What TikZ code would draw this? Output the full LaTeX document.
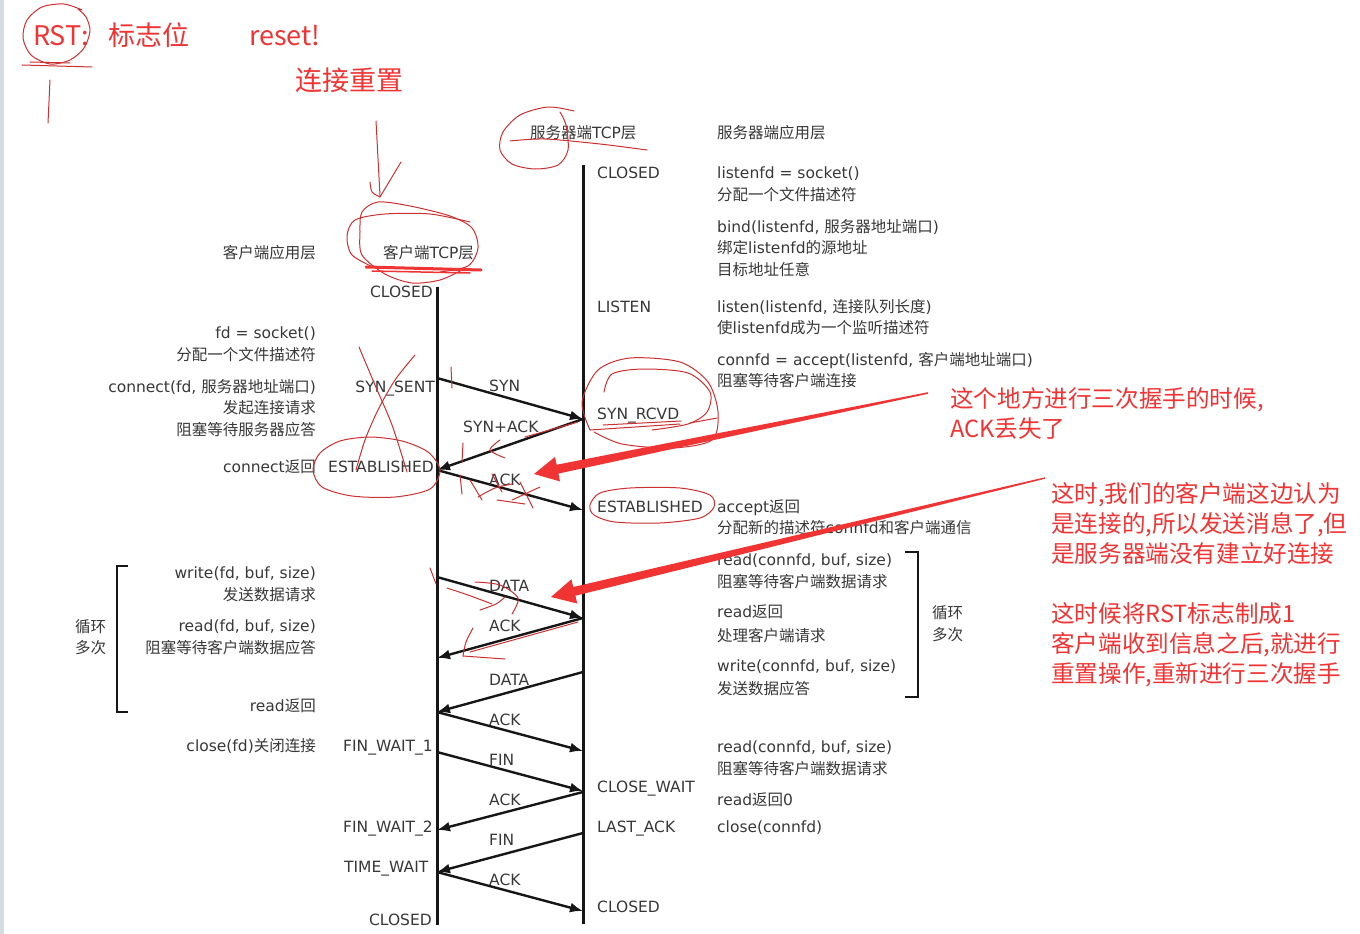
\documentclass[tikz,border=0pt]{standalone}
\usepackage{fontspec}
\setmainfont{DejaVu Sans}
\newfontfamily\zh{Noto Sans CJK SC}
\newcommand\cjkt[1]{{\zh #1}}
\usetikzlibrary{arrows.meta,calc}
\definecolor{txt}{RGB}{56,56,56}
\definecolor{ln}{RGB}{22,22,22}
\definecolor{pen}{RGB}{205,48,48}
\definecolor{rtx}{RGB}{240,52,52}
\definecolor{edgec}{RGB}{214,220,228}
\tikzset{
  gtxt/.style={inner sep=0pt, text=txt, font=\fontsize{15.5}{18}\selectfont, text height=11pt, text depth=0pt},
  gl/.style={gtxt, anchor=west},
  gr/.style={gtxt, anchor=east},
  msg/.style={line width=2.4pt, draw=ln, -{Latex[length=13pt,width=10pt]}},
  life/.style={line width=3pt, draw=ln},
  brk/.style={line width=2pt, draw=ln},
  pen/.style={draw=pen, line width=1pt, line cap=round, line join=round},
  rtxt/.style={inner sep=0pt, anchor=west, text=rtx, font=\zh\fontsize{23.6}{28}\selectfont, text height=18pt, text depth=0pt},
  rbig/.style={inner sep=0pt, anchor=west, text=rtx, font=\zh\fontsize{27}{30}\selectfont, text height=20pt, text depth=0pt},
  rarrow/.style={fill=rtx, draw=none},
}
\begin{document}
\begin{tikzpicture}[x=1pt,y=-1pt]
\useasboundingbox (0,0) rectangle (1360,934);
\fill[white] (0,0) rectangle (1360,934);
\fill[edgec] (0,0) rectangle (4,934);

% ---------- headers ----------
\node[gl] (shdr) at (530,133) {\cjkt{服务器端}TCP\cjkt{层}};
\node[gl] (sapp) at (717,133) {\cjkt{服务器端应用层}};
\node[gr] (capp) at (316,253) {\cjkt{客户端应用层}};
\node[gl] (chdr) at (383,253) {\cjkt{客户端}TCP\cjkt{层}};

% ---------- lifelines ----------
\coordinate (ctop) at (437,287);
\coordinate (cbot) at (437,925);
\coordinate (stop) at (583,165);
\coordinate (sbot) at (583,924);
\draw[life] (ctop) -- (cbot);
\draw[life] (stop) -- (sbot);

% ---------- server states ----------
\node[gl] (ss1) at (597,173) {CLOSED};
\node[gl] (ss2) at (597,307) {LISTEN};
\node[gl] (ss3) at (597,414) {SYN\_RCVD};
\node[gl] (ss4) at (597,507) {ESTABLISHED};
\node[gl] (ss5) at (597,787) {CLOSE\_WAIT};
\node[gl] (ss6) at (597,827) {LAST\_ACK};
\node[gl] (ss7) at (597,907) {CLOSED};

% ---------- server application ----------
\node[gl] (sA1) at (717,173) {listenfd = socket()};
\node[gl] (sA2) at (717,195) {\cjkt{分配一个文件描述符}};
\node[gl] (sB1) at (717,227) {bind(listenfd, \cjkt{服务器地址端口})};
\node[gl] (sB2) at (717,248) {\cjkt{绑定}listenfd\cjkt{的源地址}};
\node[gl] (sB3) at (717,270) {\cjkt{目标地址任意}};
\node[gl] (sC1) at (717,307) {listen(listenfd, \cjkt{连接队列长度})};
\node[gl] (sC2) at (717,328) {\cjkt{使}listenfd\cjkt{成为一个监听描述符}};
\node[gl] (sD1) at (717,360) {connfd = accept(listenfd, \cjkt{客户端地址端口})};
\node[gl] (sD2) at (717,381) {\cjkt{阻塞等待客户端连接}};
\node[gl] (sE1) at (717,507) {accept\cjkt{返回}};
\node[gl] (sE2) at (717,528) {\cjkt{分配新的描述符}connfd\cjkt{和客户端通信}};
\node[gl] (sF1) at (717,560) {read(connfd, buf, size)};
\node[gl] (sF2) at (717,582) {\cjkt{阻塞等待客户端数据请求}};
\node[gl] (sF3) at (717,612) {read\cjkt{返回}};
\node[gl] (sF4) at (717,636) {\cjkt{处理客户端请求}};
\node[gl] (sF5) at (717,666) {write(connfd, buf, size)};
\node[gl] (sF6) at (717,689) {\cjkt{发送数据应答}};
\node[gl] (sG1) at (717,747) {read(connfd, buf, size)};
\node[gl] (sG2) at (717,769) {\cjkt{阻塞等待客户端数据请求}};
\node[gl] (sG3) at (717,800) {read\cjkt{返回}0};
\node[gl] (sG4) at (717,827) {close(connfd)};
\draw[brk] (905,552) -- (918,552) -- (918,697) -- (905,697);
\node[gl] (sL1) at (932,613) {\cjkt{循环}};
\node[gl] (sL2) at (932,635) {\cjkt{多次}};

% ---------- client states ----------
\node[gr] (cs1) at (433,292) {CLOSED};
\node[gr] (cs2) at (435,387) {SYN\_SENT};
\node[gr] (cs3) at (434,467) {ESTABLISHED};
\node[gr] (cs4) at (433,746) {FIN\_WAIT\_1};
\node[gr] (cs5) at (433,827) {FIN\_WAIT\_2};
\node[gl] (cs6) at (344,867) {TIME\_WAIT};
\node[gr] (cs7) at (432,920) {CLOSED};

% ---------- client application ----------
\node[gr] (cA1) at (316,333) {fd = socket()};
\node[gr] (cA2) at (316,355) {\cjkt{分配一个文件描述符}};
\node[gr] (cB1) at (316,387) {connect(fd, \cjkt{服务器地址端口})};
\node[gr] (cB2) at (316,408) {\cjkt{发起连接请求}};
\node[gr] (cB3) at (316,430) {\cjkt{阻塞等待服务器应答}};
\node[gr] (cC1) at (316,467) {connect\cjkt{返回}};
\node[gr] (cD1) at (316,573) {write(fd, buf, size)};
\node[gr] (cD2) at (316,595) {\cjkt{发送数据请求}};
\node[gr] (cD3) at (316,626) {read(fd, buf, size)};
\node[gr] (cD4) at (316,648) {\cjkt{阻塞等待客户端数据应答}};
\node[gr] (cD5) at (316,706) {read\cjkt{返回}};
\node[gr] (cE1) at (316,746) {close(fd)\cjkt{关闭连接}};
\draw[brk] (128,566) -- (117,566) -- (117,712) -- (128,712);
\node[gl] (cL1) at (75,627) {\cjkt{循环}};
\node[gl] (cL2) at (75,648) {\cjkt{多次}};

% ---------- message endpoints ----------
\coordinate (c1) at (437,378);  \coordinate (s1) at (583,419);
\coordinate (c2) at (437,470);  \coordinate (s2) at (583,510);
\coordinate (c3) at (437,577);  \coordinate (s3) at (583,618);
\coordinate (c4) at (437,658);  \coordinate (s4) at (583,672);
\coordinate (c5) at (437,712);  \coordinate (s5) at (583,751);
\coordinate (c6) at (437,752);  \coordinate (s6) at (583,791);
\coordinate (c7) at (437,830);  \coordinate (s7) at (583,792);
\coordinate (c8) at (437,872);  \coordinate (s8) at (583,833);
\coordinate (s9) at (583,911);

\draw[msg] (c1) -- (s1);
\draw[msg] (s1) -- (c2);
\draw[msg] (c2) -- (s2);
\draw[msg] (c3) -- (s3);
\draw[msg] (s3) -- (c4);
\draw[msg] (s4) -- (c5);
\draw[msg] (c5) -- (s5);
\draw[msg] (c6) -- (s6);
\draw[msg] (s7) -- (c7);
\draw[msg] (s8) -- (c8);
\draw[msg] (c8) -- (s9);

\node[gl] (m1) at (489,386) {SYN};
\node[gl] (m2) at (463,427) {SYN+ACK};
\node[gl] (m3) at (489,480) {ACK};
\node[gl] (m4) at (489,586) {DATA};
\node[gl] (m5) at (489,626) {ACK};
\node[gl] (m6) at (489,680) {DATA};
\node[gl] (m7) at (489,720) {ACK};
\node[gl] (m8) at (489,760) {FIN};
\node[gl] (m9) at (489,800) {ACK};
\node[gl] (m10) at (489,840) {FIN};
\node[gl] (m11) at (489,880) {ACK};

% ---------- red annotations: text ----------
\node[rbig] (rst) at (33,36) {RST:};
\node[rbig] (flag) at (108,36) {标志位};
\node[rbig] (rset) at (249,36) {reset!};
\node[rbig] (conr) at (295,80) {连接重置};

\node[rtxt] (n1a) at (950,398) {这个地方进行三次握手的时候,};
\node[rtxt] (n1b) at (950,428) {ACK丢失了};
\node[rtxt] (n2a) at (1051,493) {这时,我们的客户端这边认为};
\node[rtxt] (n2b) at (1051,523) {是连接的,所以发送消息了,但};
\node[rtxt] (n2c) at (1051,553) {是服务器端没有建立好连接};
\node[rtxt] (n3a) at (1051,613) {这时候将RST标志制成1};
\node[rtxt] (n3b) at (1051,643) {客户端收到信息之后,就进行};
\node[rtxt] (n3c) at (1051,673) {重置操作,重新进行三次握手};

% ---------- red hand-drawn marks ----------
\draw[pen] plot[smooth] coordinates {(82,10) (64,4) (42,7) (27,20) (23,38) (31,55) (50,64) (70,60) (84,48) (90,31) (86,17) (78,9)};
\draw[pen] (22,65) -- (92,67);
\draw[pen] (30,62) -- (70,63);
\draw[pen] (50,80) -- (48,123);

\draw[pen] (376,121) -- (380,196);
\draw[pen] plot[smooth] coordinates {(370,182) (372,192) (380,197)};
\draw[pen] (380,197) -- (401,162);

\draw[pen] plot[smooth] coordinates {(440,272) (468,266) (478,248) (472,228) (450,216) (410,206) (378,202) (362,212) (360,232) (362,255) (385,274) (412,283) (440,280) (462,270)};
\draw[pen] plot[smooth] coordinates {(470,222) (430,214) (385,214) (355,220) (347,236) (352,255) (375,268)};
\draw[rtx, line width=3pt, line cap=round] (366,267) -- (481,270);
\draw[rtx, line width=1.5pt, line cap=round] (372,271) -- (470,273);

\draw[pen] plot[smooth] coordinates {(574,111) (548,107) (520,115) (503,132) (500,150) (512,164) (535,169) (558,165) (568,150) (566,125) (560,112)};
\draw[pen] plot[smooth] coordinates {(510,141) (545,139) (600,144) (647,150)};

\draw[pen] plot[smooth] coordinates {(359,347) (375,385) (392,425) (407,472)};
\draw[pen] plot[smooth] coordinates {(415,355) (395,380) (378,410) (365,440) (356,470)};
\draw[pen] (451,367) -- (452,388);

\draw[pen] plot[smooth cycle] coordinates {(320,453) (340,441) (370,437) (402,441) (428,452) (440,470) (430,489) (395,497) (352,496) (322,487) (313,470)};

\draw[pen] (463,443) -- (462,462);
\draw[pen] plot[smooth] coordinates {(500,440) (490,450) (505,458)};
\draw[pen] (525,437) -- (578,422);

\draw[pen] (460,475) -- (462,494);
\draw[pen] (470,480) -- (482,500);
\draw[pen] plot[smooth] coordinates {(478,497) (495,488) (512,484)};
\draw[pen] (492,474) -- (502,492);
\draw[pen] (520,482) -- (533,508);
\draw[pen] (512,500) -- (540,487);
\draw[pen] (497,500) -- (525,504);

\draw[pen] plot[smooth] coordinates {(590,430) (582,402) (598,370) (630,358) (680,362) (708,382) (718,412) (712,440) (672,448) (622,444) (594,432)};
\draw[pen] plot[smooth] coordinates {(604,392) (612,374) (643,369) (688,373) (710,392) (707,412) (688,424) (652,430)};
\draw[pen] (590,430) -- (680,424);
\draw[pen] (603,425) -- (681,421);
\draw[pen] (717,418) -- (690,423);

\draw[pen] plot[smooth cycle] coordinates {(590,505) (600,493) (630,488) (680,488) (710,495) (714,507) (700,518) (660,523) (615,522) (594,515)};

\draw[pen] (430,568) -- (436,584);
\draw[pen] plot[smooth] coordinates {(447,588) (468,595) (492,604)};
\draw[pen] plot[smooth] coordinates {(475,582) (500,585) (518,598) (512,614)};
\draw[pen] plot[smooth] coordinates {(480,610) (496,604) (505,597)};
\draw[pen] plot[smooth] coordinates {(473,628) (466,642) (463,656)};
\draw[pen] (463,656) -- (505,659);
\draw[pen] (578,622) -- (470,652);

% ---------- big red arrows ----------
\coordinate (a1t) at (928,393);
\coordinate (a1p) at (534,474);
\coordinate (a1b) at ($(a1p)!24pt!(a1t)$);
\fill[rarrow] ($(a1t)!0.8pt!90:(a1p)$) -- ($(a1b)!4.5pt!90:(a1p)$) -- ($(a1b)!12.5pt!90:(a1p)$) -- (a1p)
  -- ($(a1b)!12.5pt!-90:(a1p)$) -- ($(a1b)!4.5pt!-90:(a1p)$) -- ($(a1t)!0.8pt!-90:(a1p)$) -- cycle;

\coordinate (a2t) at (1045,478);
\coordinate (a2p) at (551,597);
\coordinate (a2b) at ($(a2p)!24pt!(a2t)$);
\fill[rarrow] ($(a2t)!0.7pt!90:(a2p)$) -- ($(a2b)!4.5pt!90:(a2p)$) -- ($(a2b)!12.5pt!90:(a2p)$) -- (a2p)
  -- ($(a2b)!12.5pt!-90:(a2p)$) -- ($(a2b)!4.5pt!-90:(a2p)$) -- ($(a2t)!0.7pt!-90:(a2p)$) -- cycle;
\end{tikzpicture}
\end{document}
